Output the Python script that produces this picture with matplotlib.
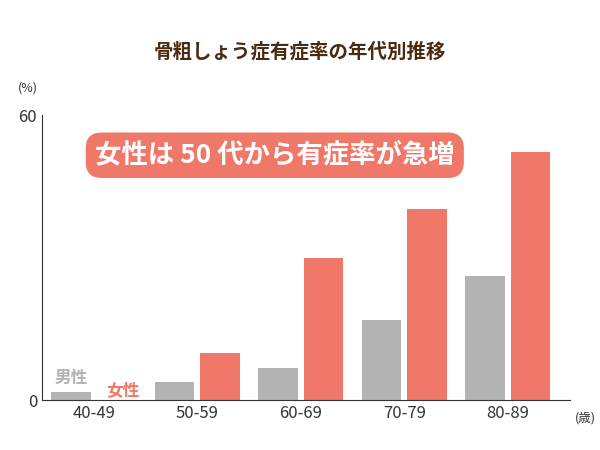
import matplotlib.pyplot as plt
import numpy as np

plt.rcParams['font.family'] = ['Noto Sans CJK JP', 'DejaVu Sans']

ages = ['40-49', '50-59', '60-69', '70-79', '80-89']
male = [1.7, 3.8, 6.7, 16.8, 26.1]
female = [0.0, 9.9, 29.9, 40.2, 52.2]

gray = '#b3b3b3'
red = '#f07868'
brown = '#4a2a10'

fig = plt.figure(figsize=(6, 4.5), dpi=100)
ax = fig.add_axes([0.07, 0.111, 0.88, 0.633])

x = np.arange(len(ages))
w = 0.38
ax.bar(x - 0.22, male, w, color=gray)
ax.bar(x + 0.22, female, w, color=red)

ax.set_xlim(-0.5, 4.6)
ax.set_ylim(0, 60)
ax.set_yticks([0, 60])
ax.set_xticks(x)
ax.set_xticklabels(ages, fontsize=12, color='#333333')
ax.tick_params(length=0, labelsize=12, colors='#333333')
for s in ['top', 'right']:
    ax.spines[s].set_visible(False)
ax.spines['left'].set_color('#333333')
ax.spines['bottom'].set_color('#333333')

ax.text(-0.22, 3.5, '男性', color=gray, fontsize=12, fontweight='bold', ha='center')
ax.text(0.28, 0.8, '女性', color=red, fontsize=12, fontweight='bold', ha='center')

fig.text(0.5, 0.885, '骨粗しょう症有症率の年代別推移', ha='center', va='center',
         fontsize=14, fontweight='bold', color=brown)
fig.text(0.03, 0.805, '(%)', fontsize=9, color='#333333', va='center')
fig.text(0.958, 0.072, '(歳)', fontsize=9, color='#333333', va='center')
fig.text(0.458, 0.655, '女性は 50 代から有症率が急増', ha='center', va='center',
         fontsize=19, fontweight='bold', color='white',
         bbox=dict(boxstyle='round,pad=0.35,rounding_size=0.6', fc=red, ec='none'))

fig.savefig('out.png')
